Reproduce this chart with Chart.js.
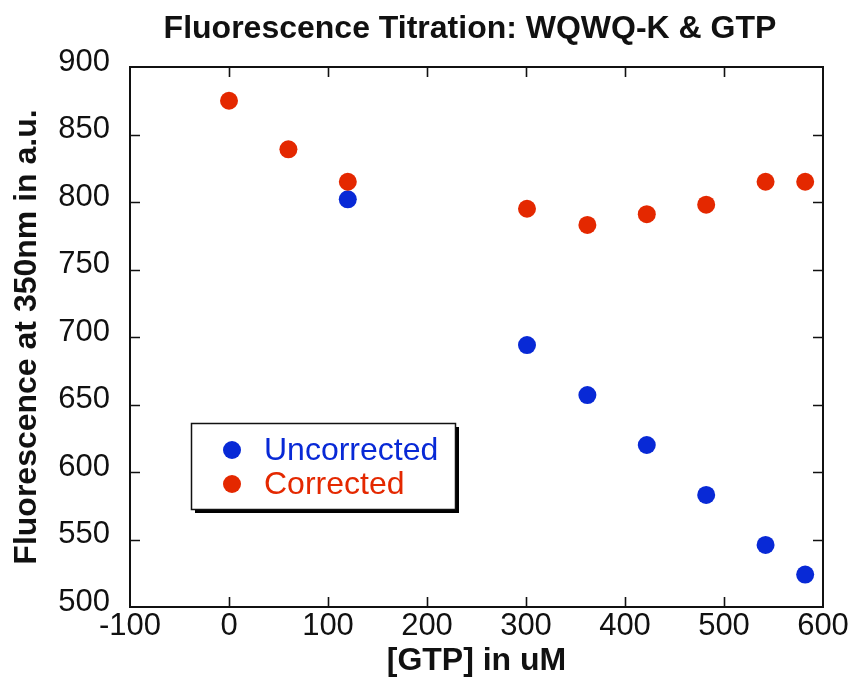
<!DOCTYPE html>
<html>
<head>
<meta charset="utf-8">
<script src="https://cdn.jsdelivr.net/npm/chart.js@4.4.1/dist/chart.umd.min.js"></script>
<style>
  html, body { margin: 0; padding: 0; background: #ffffff; }
  #wrap { width: 851px; height: 678px; }
</style>
</head>
<body>
<div id="wrap"><canvas id="c" width="851" height="678"></canvas></div>
<script>
// ---- data ----
const chartTitle = "Fluorescence Titration: WQWQ-K & GTP";
const xAxisTitle = "[GTP] in uM";
const yAxisTitle = "Fluorescence at 350nm in a.u.";
const seriesNames = ["Uncorrected", "Corrected"];

const gtpCorrected   = [0, 60, 120, 301, 362, 422, 482, 542, 582];
const fluorCorrected = [875, 839, 815, 795, 783, 791, 798, 815, 815];

const gtpUncorrected   = [120, 301, 362, 422, 482, 542, 582];
const fluorUncorrected = [802, 694, 657, 620, 583, 546, 524];

const xMin = -100, xMax = 600, xStep = 100;
const yMin = 500, yMax = 900, yStep = 50;

// ---- styles ----
const BLUE = '#0829d6';
const RED = '#e42800';
const INK = '#111111';
const FONT = "'Liberation Sans', Arial, Helvetica, sans-serif";

function pts(xs, ys) { return xs.map((x, i) => ({ x: x, y: ys[i] })); }

const frameAndTicks = {
  id: 'frameAndTicks',
  afterDatasetsDraw(chart) {
    const { ctx, chartArea: a, scales: { x, y } } = chart;
    ctx.save();
    ctx.strokeStyle = INK;
    ctx.lineWidth = 1.6;
    const tl = 10;
    ctx.beginPath();
    x.ticks.forEach(t => {
      const px = Math.round(x.getPixelForValue(t.value)) + 0.5;
      if (px <= a.left + 2 || px >= a.right - 2) return;
      ctx.moveTo(px, a.bottom); ctx.lineTo(px, a.bottom - tl);
      ctx.moveTo(px, a.top); ctx.lineTo(px, a.top + tl);
    });
    y.ticks.forEach(t => {
      const py = Math.round(y.getPixelForValue(t.value)) + 0.5;
      if (py <= a.top + 2 || py >= a.bottom - 2) return;
      ctx.moveTo(a.left, py); ctx.lineTo(a.left + tl, py);
      ctx.moveTo(a.right, py); ctx.lineTo(a.right - tl, py);
    });
    ctx.stroke();
    ctx.lineWidth = 2;
    ctx.strokeRect(a.left, a.top, a.right - a.left, a.bottom - a.top);
    ctx.restore();
  }
};

const titleAndLegend = {
  id: 'titleAndLegend',
  afterDraw(chart) {
    const { ctx } = chart;
    ctx.save();
    // title
    ctx.fillStyle = INK;
    ctx.font = "bold 32px " + FONT;
    ctx.textAlign = 'center';
    ctx.textBaseline = 'middle';
    ctx.fillText(chartTitle, 470, 29);
    // legend box with shadow
    const bx = 191, by = 423, bw = 264, bh = 86;
    ctx.fillStyle = '#000000';
    ctx.fillRect(bx + 4, by + 4, bw, bh);
    ctx.fillStyle = '#ffffff';
    ctx.fillRect(bx, by, bw, bh);
    ctx.strokeStyle = INK;
    ctx.lineWidth = 1.5;
    ctx.strokeRect(bx + 0.5, by + 0.5, bw, bh);
    const ds = chart.data.datasets;
    const rows = [450, 484];
    ctx.font = "32px " + FONT;
    ctx.textAlign = 'left';
    ctx.textBaseline = 'middle';
    ds.forEach((d, i) => {
      ctx.fillStyle = d.backgroundColor;
      ctx.beginPath();
      ctx.arc(232, rows[i], 9, 0, Math.PI * 2);
      ctx.fill();
      ctx.fillText(d.label, 264, rows[i] + 1);
    });
    ctx.restore();
  }
};

new Chart(document.getElementById('c'), {
  type: 'scatter',
  data: {
    datasets: [
      {
        label: seriesNames[0],
        data: pts(gtpUncorrected, fluorUncorrected),
        backgroundColor: BLUE,
        borderColor: BLUE,
        pointRadius: 9,
        pointBorderWidth: 0,
        order: 1
      },
      {
        label: seriesNames[1],
        data: pts(gtpCorrected, fluorCorrected),
        backgroundColor: RED,
        borderColor: RED,
        pointRadius: 9,
        pointBorderWidth: 0,
        order: 0
      }
    ]
  },
  options: {
    responsive: false,
    animation: false,
    devicePixelRatio: 1,
    layout: { padding: { top: 67, right: 28, bottom: 0, left: 0 } },
    plugins: {
      legend: { display: false },
      title: { display: false },
      tooltip: { enabled: false }
    },
    scales: {
      x: {
        type: 'linear',
        min: xMin, max: xMax,
        grid: { display: false, drawTicks: false },
        border: { display: false },
        ticks: {
          stepSize: xStep,
          color: INK,
          padding: 1,
          maxRotation: 0,
          font: { family: FONT, size: 31 }
        },
        title: {
          display: true,
          text: xAxisTitle,
          color: INK,
          font: { family: FONT, size: 32, weight: 'bold', lineHeight: 1 },
          padding: { top: 0, bottom: 1 }
        },
        afterFit(s) { s.height = 71; }
      },
      y: {
        type: 'linear',
        min: yMin, max: yMax,
        grid: { display: false, drawTicks: false },
        border: { display: false },
        ticks: {
          stepSize: yStep,
          color: INK,
          padding: 20,
          labelOffset: -5,
          font: { family: FONT, size: 31 }
        },
        title: {
          display: true,
          text: yAxisTitle,
          color: INK,
          font: { family: FONT, size: 32, weight: 'bold', lineHeight: 1 },
          padding: { top: 11, bottom: 0 }
        },
        afterFit(s) { s.width = 130; }
      }
    }
  },
  plugins: [frameAndTicks, titleAndLegend]
});
</script>
</body>
</html>
